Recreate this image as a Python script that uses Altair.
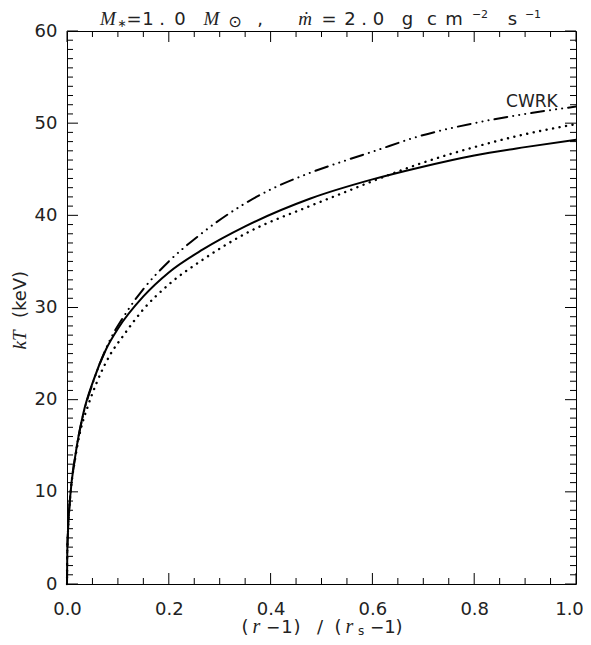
import altair as alt
import pandas as pd

# ---------------- data ----------------
v_solid = [0, 0.0005, 0.002, 0.006, 0.016, 0.032, 0.052, 0.077, 0.1, 0.15, 0.2,
           0.267, 0.35, 0.477, 0.6, 0.693, 0.8, 0.9, 1.0]
kT_solid = [0, 3.3, 5.8, 9.3, 13.8, 18.5, 22.1, 25.5, 27.7, 31.2, 33.8,
            36.3, 38.8, 41.8, 43.9, 45.2, 46.5, 47.4, 48.2]

v_dotted = [0, 0.0005, 0.002, 0.006, 0.016, 0.025, 0.041, 0.058, 0.084, 0.11, 0.15,
            0.2, 0.267, 0.35, 0.477, 0.55, 0.6, 0.693, 0.8, 0.9, 1.0]
kT_dotted = [0, 3.3, 5.8, 9.2, 13.6, 16.3, 19.3, 21.8, 24.8, 26.9, 29.8,
             32.5, 35.2, 38.0, 41.0, 42.6, 43.7, 45.6, 47.4, 48.8, 49.9]

v_cwrk = [0, 0.0005, 0.002, 0.006, 0.016, 0.032, 0.052, 0.077, 0.117, 0.15, 0.2,
          0.259, 0.35, 0.4, 0.477, 0.55, 0.6, 0.693, 0.8, 0.9, 1.0]
kT_cwrk = [0, 3.3, 5.8, 9.3, 13.8, 18.4, 22.0, 25.6, 29.5, 32.0, 35.0,
           37.8, 41.3, 42.8, 44.6, 46.0, 46.9, 48.6, 50.0, 51.0, 51.8]

label_text = ["CWRK"]
label_v = [0.964]
label_kT = [51.8]

x_major = [0.0, 0.2, 0.4, 0.6, 0.8, 1.0]
x_minor = [0.05, 0.1, 0.15, 0.25, 0.3, 0.35, 0.45, 0.5, 0.55, 0.65, 0.7, 0.75,
           0.85, 0.9, 0.95]
y_major = [0, 10, 20, 30, 40, 50, 60]
y_minor = [i for i in range(1, 60) if i % 10 != 0]

# ---------------- layout ----------------
W, H = 509, 553
SANS = "DejaVu Sans"
SERIF = "Liberation Serif"
TXT = "#222222"

xs = alt.Scale(domain=[0, 1], nice=False, zero=False)
ys = alt.Scale(domain=[0, 60], nice=False, zero=False)

x_axis = alt.Axis(values=x_major, format=".1f", ticks=False, domain=False, grid=False,
                  labelPadding=16, labelFontSize=18, labelFont=SANS, labelColor=TXT,
                  labelFlush=False, labelOverlap=False, title=None,
                  labelOffset=alt.ExprRef(expr="datum.value == 1 ? -7 : 0"))
y_axis = alt.Axis(values=y_major, format="d", ticks=False, domain=False, grid=False,
                  labelPadding=10, labelFontSize=18, labelFont=SANS, labelColor=TXT,
                  labelFlush=False, labelOverlap=False, title=None)

X = lambda f: alt.X(f, scale=xs, axis=x_axis)
Y = lambda f: alt.Y(f, scale=ys, axis=y_axis)


def curve(v, kT, dash=None, cap="butt", width=2.0):
    df = pd.DataFrame({"v": v, "kT": kT})
    kw = dict(color="black", strokeWidth=width, interpolate="monotone", strokeCap=cap)
    if dash:
        kw["strokeDash"] = dash
    return alt.Chart(df).mark_line(**kw).encode(x=X("v:Q"), y=Y("kT:Q"))


def xticks(vals, length, top):
    df = pd.DataFrame({"v": vals})
    y0, y1 = (0, length) if top else (H, H - length)
    return alt.Chart(df).mark_rule(color="black", strokeWidth=1).encode(
        x=X("v:Q"), y=alt.value(y0), y2=alt.value(y1))


def yticks(vals, length, right):
    df = pd.DataFrame({"kT": vals})
    x0, x1 = (W, W - length) if right else (0, length)
    return alt.Chart(df).mark_rule(color="black", strokeWidth=1).encode(
        y=Y("kT:Q"), x=alt.value(x0), x2=alt.value(x1))


def text(t, x, y, size, font=SANS, style="normal", angle=0):
    df = pd.DataFrame({"t": [t]})
    return alt.Chart(df).mark_text(
        font=font, fontSize=size, fontStyle=style, color=TXT, align="center",
        baseline="alphabetic", angle=angle,
    ).encode(text="t:N", x=alt.value(x), y=alt.value(y))


layers = [
    curve(v_solid, kT_solid),
    curve(v_dotted, kT_dotted, dash=[0.1, 6.5], cap="round", width=2.4),
    curve(v_cwrk, kT_cwrk, dash=[13, 6, 0.1, 6, 0.1, 6, 0.1, 6], cap="round", width=2.0),
    xticks(x_minor, 6, False), xticks(x_major, 11, False),
    xticks(x_minor, 6, True), xticks(x_major, 11, True),
    yticks(y_minor, 6, False), yticks(y_major, 11, False),
    yticks(y_minor, 6, True), yticks(y_major, 11, True),
    alt.Chart(pd.DataFrame({"t": label_text, "v": label_v, "kT": label_kT})).mark_text(
        font=SANS, fontSize=17, color=TXT, align="right", baseline="alphabetic"
    ).encode(x=X("v:Q"), y=Y("kT:Q"), text="t:N"),
]

# title: M* = 1.0 M_sun ,  mdot = 2.0 g cm^-2 s^-1  (glyph centres in page px)
TB = -6
OX = 67
title_parts = [
    ("M", 108, TB, 19, SERIF, "italic"),
    ("\u2217", 122, TB + 2, 11, SANS, "normal"),
    ("=", 134, TB, 18, SANS, "normal"),
    ("1", 148, TB, 18, SANS, "normal"),
    (".", 162, TB, 18, SANS, "normal"),
    ("0", 180, TB, 18, SANS, "normal"),
    ("M", 211.5, TB, 19, SERIF, "italic"),
    ("\u2299", 235, TB + 2, 16, SANS, "normal"),
    (",", 260, TB, 18, SANS, "normal"),
    ("\u1e41", 305, TB, 19, SERIF, "italic"),
    ("=", 329, TB, 18, SANS, "normal"),
    ("2", 350, TB, 18, SANS, "normal"),
    (".", 364, TB, 18, SANS, "normal"),
    ("0", 378.5, TB, 18, SANS, "normal"),
    ("g", 407.5, TB, 18, SANS, "normal"),
    ("c", 432, TB, 18, SANS, "normal"),
    ("m", 454, TB, 18, SANS, "normal"),
    ("\u22122", 480, TB - 7, 11, SANS, "normal"),
    ("s", 512.5, TB, 18, SANS, "normal"),
    ("\u22121", 533, TB - 7, 11, SANS, "normal"),
]
for t, x, y, s, f, st in title_parts:
    layers.append(text(t, x - OX, y, s, f, st))

# x-axis title: (r-1) / (r_s-1)
XB = 602
xtitle_parts = [
    ("(", 245, XB, 18, SANS, "normal"),
    ("r", 256.5, XB, 20, SERIF, "italic"),
    ("\u2212", 273, XB, 17, SANS, "normal"),
    ("1", 287, XB, 18, SANS, "normal"),
    (")", 297, XB, 18, SANS, "normal"),
    ("/", 320, XB, 18, SANS, "normal"),
    ("(", 338, XB, 18, SANS, "normal"),
    ("r", 349.5, XB, 20, SERIF, "italic"),
    ("s", 361, XB + 2, 12, SANS, "normal"),
    ("\u2212", 377, XB, 17, SANS, "normal"),
    ("1", 390, XB, 18, SANS, "normal"),
    (")", 399, XB, 18, SANS, "normal"),
]
for t, x, y, s, f, st in xtitle_parts:
    layers.append(text(t, x - OX, y, s, f, st))

# y-axis title: kT (keV)
layers.append(text("kT", -41, 309, 19, SERIF, "italic", angle=270))
layers.append(text("(keV)", -41, 263.5, 18, SANS, "normal", angle=270))

chart = alt.layer(*layers).properties(
    width=W, height=H,
    autosize=alt.AutoSizeParams(type="none"),
    padding={"left": 59, "top": 23, "right": 7, "bottom": 53},
).configure_view(stroke="black", strokeWidth=1)

chart.save("out.html", embed_options={"renderer": "svg", "actions": False})
